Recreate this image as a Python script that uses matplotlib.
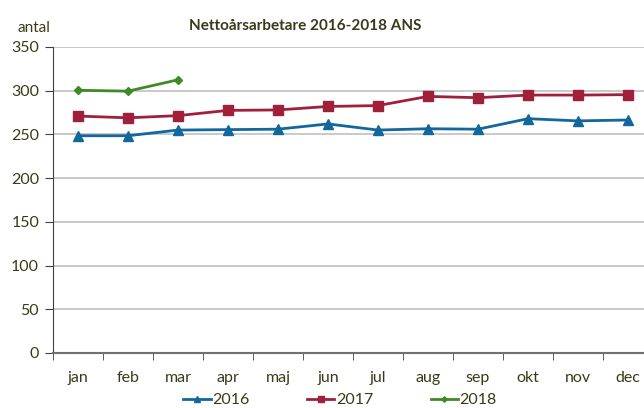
import matplotlib.pyplot as plt
import numpy as np

# data
months = ['jan', 'feb', 'mar', 'apr', 'maj', 'jun', 'jul', 'aug', 'sep', 'okt', 'nov', 'dec']
v2016 = [248.5, 248.5, 255, 255.5, 256, 262, 255, 256.5, 256, 268, 265.5, 266.5]
v2017 = [271, 269, 271.5, 277.5, 278, 282, 283, 293.5, 292, 295, 295, 295.5]
v2018 = [300.5, 299.5, 312.5]

txt = '#3a3a1a'
plt.rcParams['font.family'] = ['Lato', 'DejaVu Sans']

fig = plt.figure(figsize=(6.44, 4.08), dpi=100)
ax = fig.add_axes([53/644, 1 - 353/408, 600/644, 306/408])

x = np.arange(len(months))
ax.plot(x, v2016, color='#12679c', lw=2, marker='^', ms=7, label='2016')
ax.plot(x, v2017, color='#a0203c', lw=2, marker='s', ms=7, label='2017')
ax.plot(x[:len(v2018)], v2018, color='#3f8a27', lw=2, marker='D', ms=4, label='2018')

ax.set_xlim(-0.5, 11.5)
ax.set_ylim(0, 350)
ax.set_yticks(range(0, 351, 50))
ax.set_xticks(x)
ax.set_xticklabels(months)
ax.set_xticks(np.arange(-0.5, 12, 1), minor=True)
ax.tick_params(axis='x', which='major', length=0, pad=13, labelsize=11.5, labelcolor=txt)
ax.tick_params(axis='x', which='minor', length=5, color='#404040')
ax.tick_params(axis='y', length=6, color='#404040', labelsize=11.5, labelcolor=txt, pad=4)
ax.grid(axis='y', color='#c0c0c0', lw=1.2)
ax.set_axisbelow(True)
for s in ['top', 'right']:
    ax.spines[s].set_visible(False)
ax.spines['left'].set_color('#404040')
ax.spines['bottom'].set_color('#707070')
ax.spines['bottom'].set_linewidth(1.5)

fig.text(305/644, 1 - 26/408, 'Nettoårsarbetare 2016-2018 ANS', ha='center', va='center',
         fontsize=11, fontweight='bold', color=txt)
fig.text(18/644, 1 - 28/408, 'antal', ha='left', va='center', fontsize=11, color=txt)

leg = fig.legend(loc='center', bbox_to_anchor=(340/644, 1 - 400/408), ncol=3, frameon=False,
                 fontsize=11.5, columnspacing=3.6, handlelength=1.7, handletextpad=0.1,
                 markerscale=0.7)
for t in leg.get_texts():
    t.set_color(txt)

fig.savefig('out.png', dpi=100)
